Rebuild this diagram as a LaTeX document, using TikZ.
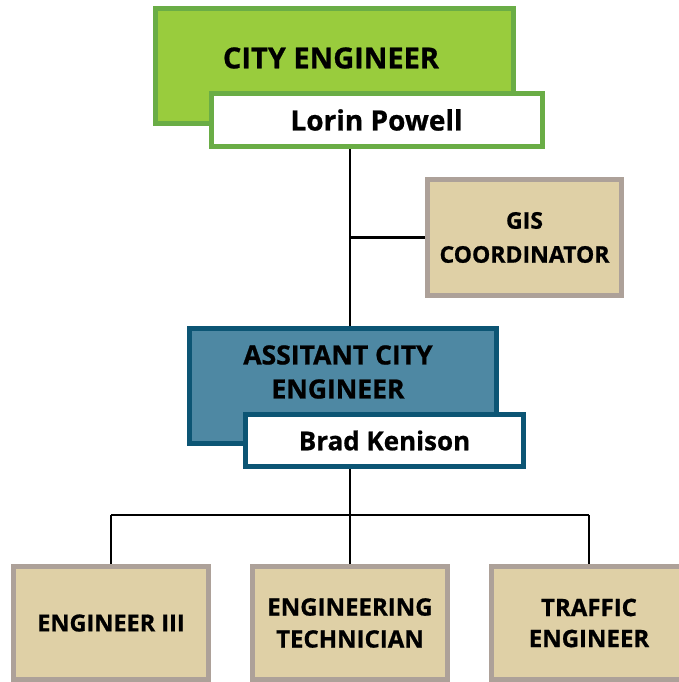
\documentclass[tikz,border=0pt]{standalone}
\usepackage{fontspec}
\setmainfont{Open Sans}[BoldFeatures={FakeBold=0.8}]
\definecolor{cefill}{RGB}{153,204,61}
\definecolor{celine}{RGB}{106,173,70}
\definecolor{asfill}{RGB}{78,136,163}
\definecolor{asline}{RGB}{12,85,116}
\definecolor{tanfill}{RGB}{223,208,166}
\definecolor{tanline}{RGB}{173,161,153}
\tikzset{
  box/.style={rectangle, inner sep=0pt, line width=5pt, align=center},
  txt/.style={inner sep=0pt, align=center, font=\bfseries\fontsize{#1}{34}\selectfont},
  link/.style={line width=2.2pt, black},
}
\begin{document}
\begin{tikzpicture}[x=1pt,y=-1pt]
\useasboundingbox (0,0) rectangle (679,682);
\coordinate (bus) at (350,515);
% boxes
\node[box, fill=cefill, draw=celine, minimum width=358pt, minimum height=115pt] (ce) at (334.5,66) {};
\node[txt=29] (cet) at (331,58) {CITY ENGINEER};
\node[box, fill=white, draw=celine, minimum width=331pt, minimum height=53pt, txt=28] (lorin) at (376.5,120) {Lorin Powell};
\node[box, fill=tanfill, draw=tanline, minimum width=194pt, minimum height=116pt, txt=23] (gis) at (524.5,237.5) {GIS\\COORDINATOR};
\node[box, fill=asfill, draw=asline, minimum width=307pt, minimum height=115pt] (asst) at (343,386) {};
\node[txt=26.5] (asstt) at (338,372) {ASSITANT CITY\\ENGINEER};
\node[box, fill=white, draw=asline, minimum width=278pt, minimum height=52pt, txt=26] (brad) at (384.5,440.5) {Brad Kenison};
\node[box, fill=tanfill, draw=tanline, minimum width=195pt, minimum height=113pt, txt=23.5] (e3) at (111,623) {ENGINEER III};
\node[box, fill=tanfill, draw=tanline, minimum width=195pt, minimum height=113pt, txt=24] (tech) at (350,623) {ENGINEERING\\[-2pt]TECHNICIAN};
\node[box, fill=tanfill, draw=tanline, minimum width=195pt, minimum height=113pt, txt=24] (traf) at (589,623) {TRAFFIC\\[-3pt]ENGINEER};
% links
\draw[link] (lorin.south -| bus) -- (asst.north -| bus);
\draw[link] (gis.west -| bus) -- (gis.west);
\draw[link] (brad.south -| bus) -- (bus);
\draw[link] (e3.north |- bus) -- (traf.north |- bus);
\draw[link] (e3.north |- bus) -- (e3.north);
\draw[link] (bus) -- (tech.north);
\draw[link] (traf.north |- bus) -- (traf.north);
\end{tikzpicture}
\end{document}
